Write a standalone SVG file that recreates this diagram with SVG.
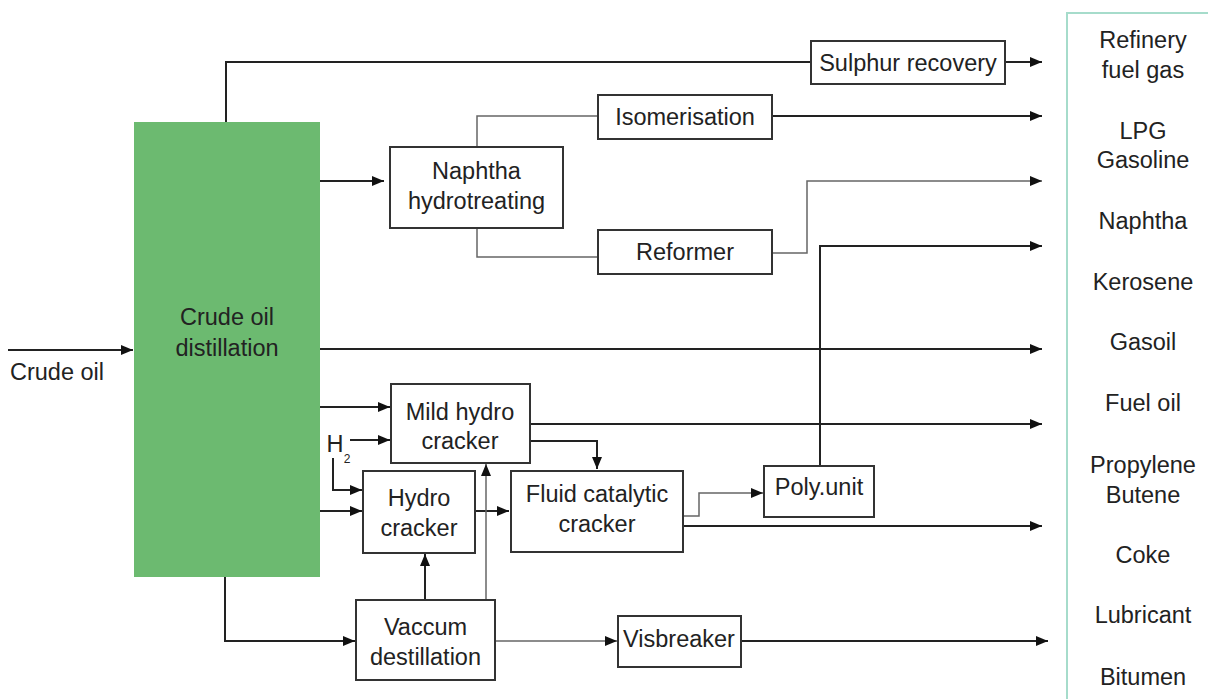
<svg xmlns="http://www.w3.org/2000/svg" width="1208" height="699" viewBox="0 0 1208 699">
<defs>
<marker id="ah" viewBox="0 0 12 10" refX="12" refY="5" markerWidth="12" markerHeight="10" markerUnits="userSpaceOnUse" orient="auto">
<path d="M0,0 L12,5 L0,10 z" fill="#111"/>
</marker>
</defs>
<style>
text{font-family:"Liberation Sans",Arial,sans-serif;font-size:23.5px;fill:#222;text-anchor:middle}
.box{fill:#fff;stroke:#333;stroke-width:2}
.c{fill:none;stroke:#222;stroke-width:2}
.t{fill:none;stroke:#666;stroke-width:1.5}
.a{marker-end:url(#ah)}
</style>
<rect width="1208" height="699" fill="#fff"/>
<g id="connectors">
<path class="c" d="M226,122 V62 H811"/>
<path class="c a" d="M1005,62 H1042"/>
<path class="c a" d="M320,181 H384"/>
<path class="t" d="M477,147 V116 H598"/>
<path class="t" d="M477,228 V257 H598"/>
<path class="c a" d="M772,116 H1042"/>
<path class="t a" d="M772,253 H807 V181 H1042"/>
<path class="c a" d="M820,466 V246 H1042"/>
<path class="c a" d="M8,350 H133"/>
<path class="c a" d="M320,349 H1042"/>
<path class="c a" d="M320,407 H390"/>
<path class="c a" d="M350,440 H390"/>
<path class="c a" d="M530,424 H1042"/>
<path class="c a" d="M530,441 H597 V469"/>
<path class="c a" d="M333,458 V490 H362"/>
<path class="c a" d="M320,511 H362"/>
<path class="c a" d="M475,511 H509"/>
<path class="t a" d="M683,516 H699 V493 H763"/>
<path class="c a" d="M683,526 H1042"/>
<path class="c a" d="M225,577 V641 H355"/>
<path class="c a" d="M425,600 V554"/>
<path class="t a" d="M486,600 V464"/>
<path class="t a" d="M495,641 H617"/>
<path class="c a" d="M741,641 H1048"/>
</g>
<g id="crude-oil-distillation">
<rect x="134" y="122" width="186" height="455" fill="#6cba70"/>
<text x="227" y="325">Crude oil</text>
<text x="227" y="356">distillation</text>
</g>
<g id="crude-oil-label">
<text x="10" y="380" style="text-anchor:start">Crude oil</text>
</g>
<g id="sulphur-recovery">
<rect class="box" x="811" y="41" width="194" height="43"/>
<text x="908" y="71">Sulphur recovery</text>
</g>
<g id="isomerisation">
<rect class="box" x="598" y="95" width="174" height="44"/>
<text x="685" y="125">Isomerisation</text>
</g>
<g id="naphtha-hydrotreating">
<rect class="box" x="390" y="147" width="173" height="81"/>
<text x="476.5" y="179">Naphtha</text>
<text x="476.5" y="209">hydrotreating</text>
</g>
<g id="reformer">
<rect class="box" x="598" y="230" width="174" height="44"/>
<text x="685" y="260">Reformer</text>
</g>
<g id="mild-hydro-cracker">
<rect class="box" x="391" y="384" width="139" height="79"/>
<text x="460" y="420">Mild hydro</text>
<text x="460" y="449">cracker</text>
</g>
<g id="h2">
<text x="335" y="452">H</text>
<text x="347" y="463" style="font-size:12px">2</text>
</g>
<g id="hydro-cracker">
<rect class="box" x="363" y="471" width="112" height="82"/>
<text x="419" y="506">Hydro</text>
<text x="419" y="536">cracker</text>
</g>
<g id="fluid-catalytic-cracker">
<rect class="box" x="511" y="471" width="172" height="81"/>
<text x="597" y="502">Fluid catalytic</text>
<text x="597" y="532">cracker</text>
</g>
<g id="poly-unit">
<rect class="box" x="764" y="466" width="110" height="51"/>
<text x="819" y="495">Poly.unit</text>
</g>
<g id="vaccum-destillation">
<rect class="box" x="356" y="600" width="139" height="80"/>
<text x="425.5" y="635">Vaccum</text>
<text x="425.5" y="665">destillation</text>
</g>
<g id="visbreaker">
<rect class="box" x="618" y="616" width="123" height="51"/>
<text x="679" y="647">Visbreaker</text>
</g>
<g id="products">
<rect x="1067" y="13" width="170" height="700" fill="none" stroke="#a6dccb" stroke-width="2"/>
<text x="1143" y="48">Refinery</text>
<text x="1143" y="78">fuel gas</text>
<text x="1143" y="139">LPG</text>
<text x="1143" y="168">Gasoline</text>
<text x="1143" y="229">Naphtha</text>
<text x="1143" y="290">Kerosene</text>
<text x="1143" y="350">Gasoil</text>
<text x="1143" y="411">Fuel oil</text>
<text x="1143" y="473">Propylene</text>
<text x="1143" y="503">Butene</text>
<text x="1143" y="563">Coke</text>
<text x="1143" y="623">Lubricant</text>
<text x="1143" y="685">Bitumen</text>
</g>
</svg>
